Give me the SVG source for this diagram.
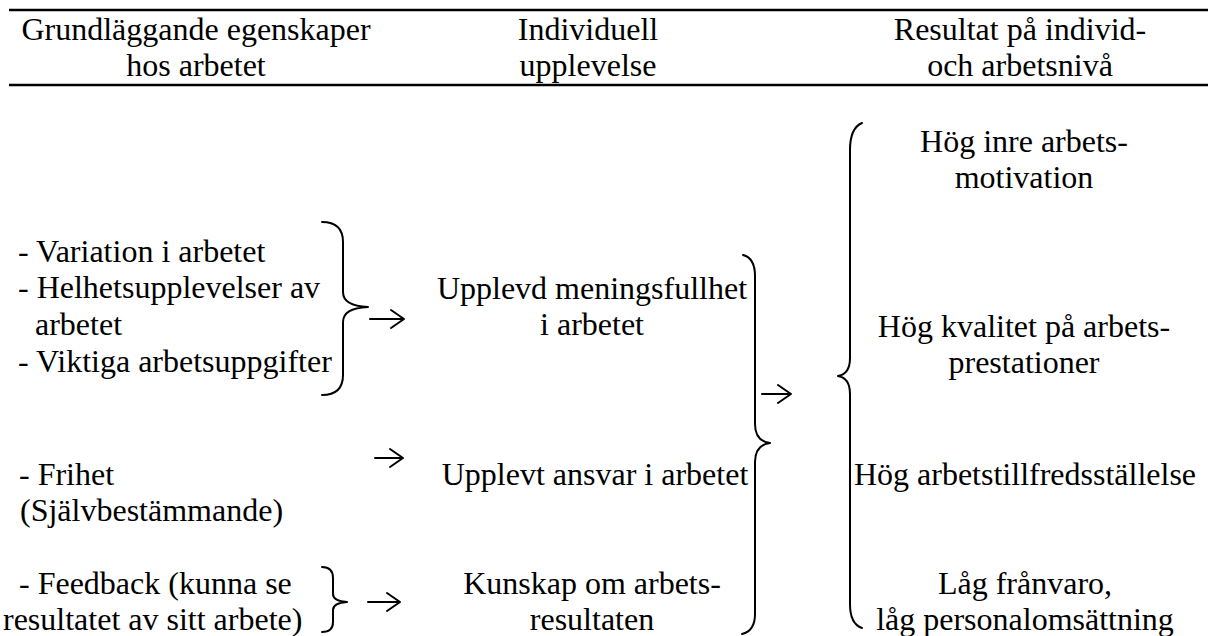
<svg xmlns="http://www.w3.org/2000/svg" width="1208" height="636" viewBox="0 0 1208 636">
<style>
text{font-family:"Liberation Serif","Times New Roman",Tinos,"Noto Serif","DejaVu Serif",FreeSerif,"Nimbus Roman","Nimbus Roman No9 L",Times,serif;font-size:32px;fill:#000}
.c{text-anchor:middle}
.rule{stroke:#000;stroke-width:2.6;fill:none}
.brace{stroke:#000;stroke-width:2;fill:none;stroke-linecap:round;stroke-linejoin:round}
.arr{stroke:#000;stroke-width:2;fill:none;stroke-linecap:round;stroke-linejoin:round}
</style>
<rect width="1208" height="636" fill="#fff"/>
<g id="header">
<path class="rule" d="M9,10 H1208 M9,85 H1208"/>
<text class="c" x="196" y="40">Grundläggande egenskaper</text>
<text class="c" x="196" y="76">hos arbetet</text>
<text class="c" x="588" y="40">Individuell</text>
<text class="c" x="588" y="76">upplevelse</text>
<text class="c" x="1020" y="40">Resultat på individ-</text>
<text class="c" x="1020" y="76">och arbetsnivå</text>
</g>
<g id="n-egenskaper1">
<text x="18" y="262">- Variation i arbetet</text>
<text x="18" y="298">- Helhetsupplevelser av</text>
<text x="35" y="335">arbetet</text>
<text x="18" y="372">- Viktiga arbetsuppgifter</text>
<path class="brace" d="M322,222 Q343,222 343,242 L343,292 Q343,306 368,307 Q343,308 343,322 L343,375 Q343,395 322,395"/>
</g>
<g id="n-frihet">
<text x="19" y="485">- Frihet</text>
<text x="20" y="521">(Självbestämmande)</text>
</g>
<g id="n-feedback">
<text x="19" y="594">- Feedback (kunna se</text>
<text x="3" y="630">resultatet av sitt arbete)</text>
<path class="brace" d="M322,567 Q333,567 333,578 L333,594 Q333,601 347,602 Q333,603 333,610 L333,622 Q333,632 322,632"/>
</g>
<g id="n-meningsfullhet">
<text class="c" x="592" y="299">Upplevd meningsfullhet</text>
<text class="c" x="592" y="335">i arbetet</text>
</g>
<g id="n-ansvar">
<text class="c" x="595" y="485">Upplevt ansvar i arbetet</text>
</g>
<g id="n-kunskap">
<text class="c" x="592" y="594">Kunskap om arbets-</text>
<text class="c" x="592" y="630">resultaten</text>
</g>
<g id="brace-mid">
<path class="brace" d="M743,255 Q755,258 755,276 L755,424 Q755,441 770,443 Q755,445 755,462 L755,614 Q755,631 742,634"/>
</g>
<g id="brace-right">
<path class="brace" d="M862,123 Q850,128 850,150 L850,358 Q850,374 838,376 Q850,378 850,394 L850,604 Q850,624 862,628"/>
</g>
<g id="n-motivation">
<text class="c" x="1024" y="152">Hög inre arbets-</text>
<text class="c" x="1024" y="188">motivation</text>
</g>
<g id="n-kvalitet">
<text class="c" x="1024" y="337">Hög kvalitet på arbets-</text>
<text class="c" x="1024" y="373">prestationer</text>
</g>
<g id="n-tillfredsstallelse">
<text class="c" x="1025" y="485">Hög arbetstillfredsställelse</text>
</g>
<g id="n-franvaro">
<text class="c" x="1025" y="594">Låg frånvaro,</text>
<text class="c" x="1025" y="630">låg personalomsättning</text>
</g>
<g id="connectors">
<path class="arr" d="M370,319 H404 M391,310 L404,319 L391,328"/>
<path class="arr" d="M375,458 H403 M390,449 L403,458 L390,467"/>
<path class="arr" d="M368,602 H400 M387,593 L400,602 L387,611"/>
<path class="arr" d="M762,394 H791 M778,385 L791,394 L778,403"/>
</g>
</svg>
